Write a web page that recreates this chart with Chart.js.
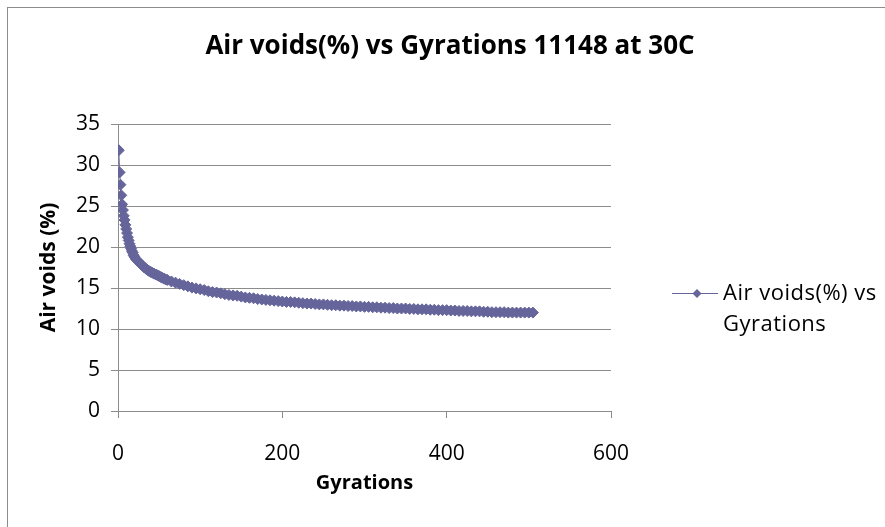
<!DOCTYPE html>
<html>
<head>
<meta charset="utf-8">
<script src="https://cdn.jsdelivr.net/npm/chart.js@4/dist/chart.umd.min.js"></script>
<style>
  html, body { margin: 0; padding: 0; background: #fff; }
  #wrap { width: 885px; height: 527px; position: relative; }
</style>
</head>
<body>
<div id="wrap"><canvas id="chart" width="885" height="527"></canvas></div>
<script>
// values
const gyrations = [1, 2, 3, 4, 5, 6, 7, 8, 9, 10, 11, 12, 13, 14, 15, 16, 17, 18, 19, 20,
    22, 24, 26, 28, 30, 32, 34, 36, 38, 40, 42, 44, 46, 48, 50, 52, 54, 56, 58, 60,
    65, 70, 75, 80, 85, 90, 95, 100, 105, 110, 115, 120, 125, 130, 135, 140, 145, 150,
    155, 160, 165, 170, 175, 180, 185, 190, 195, 200, 205, 210, 215, 220, 225, 230,
    235, 240, 245, 250, 255, 260, 265, 270, 275, 280, 285, 290, 295, 300, 305, 310,
    315, 320, 325, 330, 335, 340, 345, 350, 355, 360, 365, 370, 375, 380, 385, 390,
    395, 400, 405, 410, 415, 420, 425, 430, 435, 440, 445, 450, 455, 460, 465, 470,
    475, 480, 485, 490, 495, 500, 505];
const airVoids = [31.8, 29.1, 27.6, 26.3, 25.2, 24.5, 23.8, 23.3, 22.7, 22.2, 21.7, 21.2, 20.8, 20.4, 20.1, 19.8, 19.5, 19.3, 19.0, 18.8,
    18.5, 18.3, 18.1, 17.9, 17.7, 17.5, 17.35, 17.2, 17.05, 16.95, 16.85, 16.75, 16.65, 16.55, 16.45, 16.35, 16.25, 16.15, 16.05, 15.98,
    15.8, 15.65, 15.5, 15.35, 15.2, 15.05, 14.95, 14.85, 14.75, 14.6, 14.5, 14.45, 14.35, 14.25, 14.15, 14.1, 14.05, 13.95,
    13.85, 13.8, 13.75, 13.65, 13.6, 13.55, 13.5, 13.45, 13.4, 13.35, 13.3, 13.3, 13.25, 13.2, 13.15, 13.1,
    13.1, 13.05, 13.0, 13.0, 12.95, 12.9, 12.9, 12.85, 12.85, 12.8, 12.8, 12.75, 12.75, 12.7, 12.7, 12.65,
    12.65, 12.6, 12.6, 12.55, 12.55, 12.5, 12.5, 12.5, 12.45, 12.45, 12.4, 12.4, 12.4, 12.35, 12.35, 12.3,
    12.3, 12.3, 12.25, 12.25, 12.2, 12.2, 12.2, 12.15, 12.15, 12.15, 12.1, 12.1, 12.05, 12.05, 12.05, 12.05,
    12.0, 12.0, 12.0, 12.0, 12.0, 12.0, 12.0];
const xTicks = [0, 200, 400, 600];
const yTicks = [0, 5, 10, 15, 20, 25, 30, 35];

const chartTitle = 'Air voids(%) vs Gyrations 11148 at 30C';
const xTitle = 'Gyrations';
const yTitle = 'Air voids (%)';
const legendLines = ['Air voids(%) vs', 'Gyrations'];

const seriesColor = '#65659b';
const gridColor = '#8c8c8c';
const fontFamily = '"Open Sans", "Liberation Sans", sans-serif';

let points = gyrations.map((g, i) => ({ x: g, y: airVoids[i] }));

// title, axis titles, legend and frame drawn by hand
const decor = {
    id: 'decor',
    afterDraw(chart) {
        let ctx = chart.ctx;
        let area = chart.chartArea;
        ctx.save();
        ctx.strokeStyle = '#8c8c8c';
        ctx.lineWidth = 1;
        ctx.strokeRect(7.5, 7.5, 1000, 1000);

        ctx.fillStyle = '#000';
        ctx.textAlign = 'center';
        ctx.textBaseline = 'middle';
        ctx.font = 'bold 26px ' + fontFamily;
        ctx.fillText(chartTitle, 450, 47);

        ctx.font = 'bold 20px ' + fontFamily;
        ctx.fillText(xTitle, (area.left + area.right) / 2, 483);
        ctx.font = 'bold 21px ' + fontFamily;
        ctx.save();
        ctx.translate(49, (area.top + area.bottom) / 2);
        ctx.rotate(-Math.PI / 2);
        ctx.fillText(yTitle, 0, 0);
        ctx.restore();

        // legend
        ctx.strokeStyle = seriesColor;
        ctx.beginPath();
        ctx.moveTo(672, 293.5);
        ctx.lineTo(718, 293.5);
        ctx.stroke();
        ctx.fillStyle = seriesColor;
        ctx.beginPath();
        ctx.moveTo(697, 289);
        ctx.lineTo(701.5, 293.5);
        ctx.lineTo(697, 298);
        ctx.lineTo(692.5, 293.5);
        ctx.closePath();
        ctx.fill();
        ctx.fillStyle = '#000';
        ctx.textAlign = 'left';
        ctx.font = '22px ' + fontFamily;
        ctx.letterSpacing = '0.5px';
        ctx.fillText(legendLines[0], 723, 294);
        ctx.fillText(legendLines[1], 723, 325);
        ctx.restore();
    }
};

new Chart(document.getElementById('chart'), {
    type: 'scatter',
    data: {
        datasets: [{
            label: legendLines.join(' '),
            data: points,
            showLine: true,
            borderColor: seriesColor,
            backgroundColor: seriesColor,
            borderWidth: 1,
            pointStyle: 'rectRot',
            pointRadius: 5.5,
            pointBorderWidth: 1,
            pointBorderColor: seriesColor,
            pointHoverRadius: 5.5
        }]
    },
    options: {
        responsive: false,
        animation: false,
        layout: { padding: { left: 0, right: 274, top: 124, bottom: 0 } },
        plugins: {
            legend: { display: false },
            title: { display: false },
            tooltip: { enabled: false }
        },
        scales: {
            x: {
                type: 'linear',
                min: 0,
                max: 600,
                afterBuildTicks: scale => { scale.ticks = xTicks.map(v => ({ value: v })); },
                afterFit: scale => { scale.height = 116; },
                grid: { drawOnChartArea: false, drawTicks: true, tickLength: 7, color: gridColor },
                border: { color: gridColor },
                ticks: { color: '#000', padding: 23, maxRotation: 0, font: { family: fontFamily, size: 21 } }
            },
            y: {
                min: 0,
                max: 35,
                afterBuildTicks: scale => { scale.ticks = yTicks.map(v => ({ value: v })); },
                afterFit: scale => { scale.width = 118; },
                grid: { drawTicks: true, tickLength: 7, color: gridColor },
                border: { color: gridColor },
                ticks: { color: '#000', padding: 11, font: { family: fontFamily, size: 21 } }
            }
        }
    },
    plugins: [decor]
});
</script>
</body>
</html>
